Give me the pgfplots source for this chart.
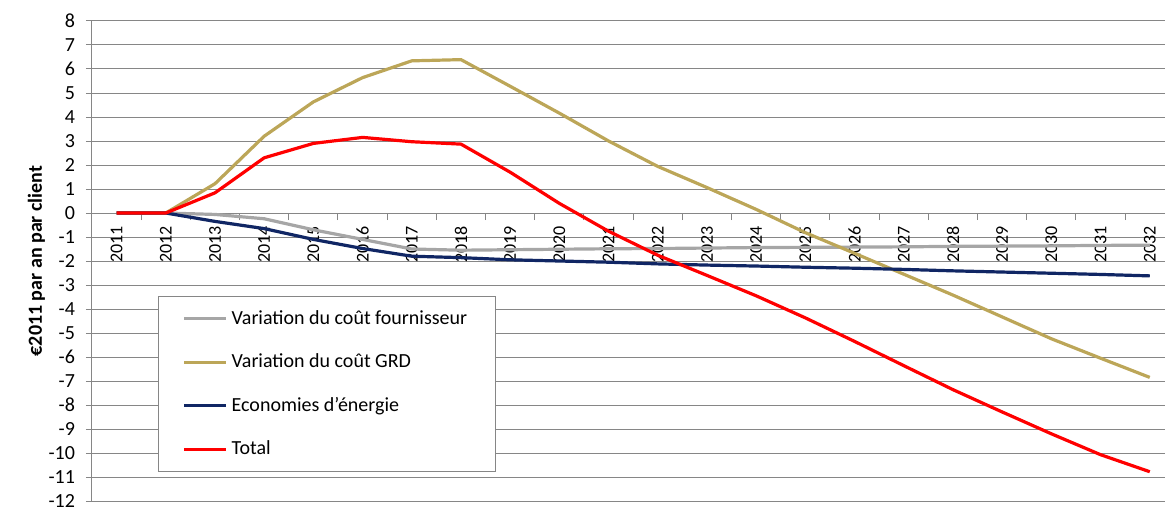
\documentclass[border=0pt]{standalone}
\usepackage{fontspec}
\setmainfont{Carlito}
\usepackage{pgfplots}
\pgfplotsset{compat=1.18}
\definecolor{gris}{RGB}{166,166,166}
\definecolor{dore}{RGB}{188,166,88}
\definecolor{marine}{RGB}{16,38,100}
\definecolor{grille}{RGB}{134,134,134}

\begin{document}
\begin{tikzpicture}
\begin{axis}[
  scale only axis, width=536.5pt, height=240pt,
  xmin=-0.5, xmax=21.31, ymin=-12, ymax=8,
  axis y line=left, axis x line=middle,
  axis line style={draw=grille, line width=0.5pt, -},
  hide obscured x ticks=false, hide obscured y ticks=false,
  ytick={-12,...,8},
  ymajorgrids, grid style={draw=grille, line width=0.5pt},
  xtick={0,...,21},
  xticklabels={2011,2012,2013,2014,2015,2016,2017,2018,2019,2020,2021,2022,2023,2024,2025,2026,2027,2028,2029,2030,2031,2032},
  minor xtick={0.5,1.5,...,20.5},
  tick align=outside, major tick length=3pt, minor tick length=3.5pt,
  major x tick style={draw=none},
  minor x tick style={draw=grille, line width=0.5pt},
  y tick style={draw=grille, line width=0.5pt},
  /pgf/number format/assume math mode=true,
  yticklabel style={font=\fontsize{10}{12}\selectfont, xshift=-2pt},
  xticklabel style={rotate=90, anchor=east, font=\fontsize{9}{10}\selectfont},
  ylabel={\bfseries €2011 par an par client},
  ylabel style={at={([xshift=-20pt]axis description cs:0,0.5)}, anchor=south, font=\fontsize{10}{12}\selectfont},
  legend style={at={(axis description cs:0.0615,0.4274)}, anchor=north west,
    draw=grille, line width=0.5pt, fill=white, font=\fontsize{10}{12}\selectfont,
    inner xsep=12pt, inner ysep=5pt, row sep=9.3pt},
  legend cell align=left,
  legend image code/.code={\draw[#1] (0pt,0pt) -- (21pt,0pt);},
  every axis plot/.append style={line width=1.6pt, line join=round, mark=none},
]
\addplot[gris] coordinates {
  (0,0) (1,0) (2,-0.06) (3,-0.24) (4,-0.70) (5,-1.10) (6,-1.50) (7,-1.55)
  (8,-1.53) (9,-1.51) (10,-1.49) (11,-1.48) (12,-1.46) (13,-1.44) (14,-1.43)
  (15,-1.42) (16,-1.41) (17,-1.39) (18,-1.38) (19,-1.37) (20,-1.35) (21,-1.34)
};
\addlegendentry{Variation du coût fournisseur\hspace{5pt}}
\addplot[dore] coordinates {
  (0,0) (1,0) (2,1.22) (3,3.20) (4,4.63) (5,5.64) (6,6.34) (7,6.39)
  (8,5.28) (9,4.16) (10,3.00) (11,1.94) (12,1.06) (13,0.15) (14,-0.82)
  (15,-1.68) (16,-2.55) (17,-3.42) (18,-4.33) (19,-5.24) (20,-6.05) (21,-6.85)
};
\addlegendentry{Variation du coût GRD}
\addplot[marine] coordinates {
  (0,0) (1,0) (2,-0.35) (3,-0.65) (4,-1.10) (5,-1.48) (6,-1.80) (7,-1.86)
  (8,-1.95) (9,-2.00) (10,-2.05) (11,-2.12) (12,-2.17) (13,-2.21) (14,-2.26)
  (15,-2.30) (16,-2.35) (17,-2.41) (18,-2.46) (19,-2.51) (20,-2.56) (21,-2.62)
};
\addlegendentry{Economies d'énergie}
\addplot[red] coordinates {
  (0,0) (1,0) (2,0.84) (3,2.30) (4,2.90) (5,3.15) (6,2.97) (7,2.87)
  (8,1.70) (9,0.40) (10,-0.76) (11,-1.76) (12,-2.60) (13,-3.45) (14,-4.37)
  (15,-5.35) (16,-6.36) (17,-7.36) (18,-8.29) (19,-9.20) (20,-10.07) (21,-10.78)
};
\addlegendentry{Total}
\end{axis}
\pgfresetboundingbox
\path ([xshift=-46pt,yshift=10.5pt]current axis.north west) rectangle ([yshift=-4.5pt]current axis.south east);
\end{tikzpicture}
\end{document}
